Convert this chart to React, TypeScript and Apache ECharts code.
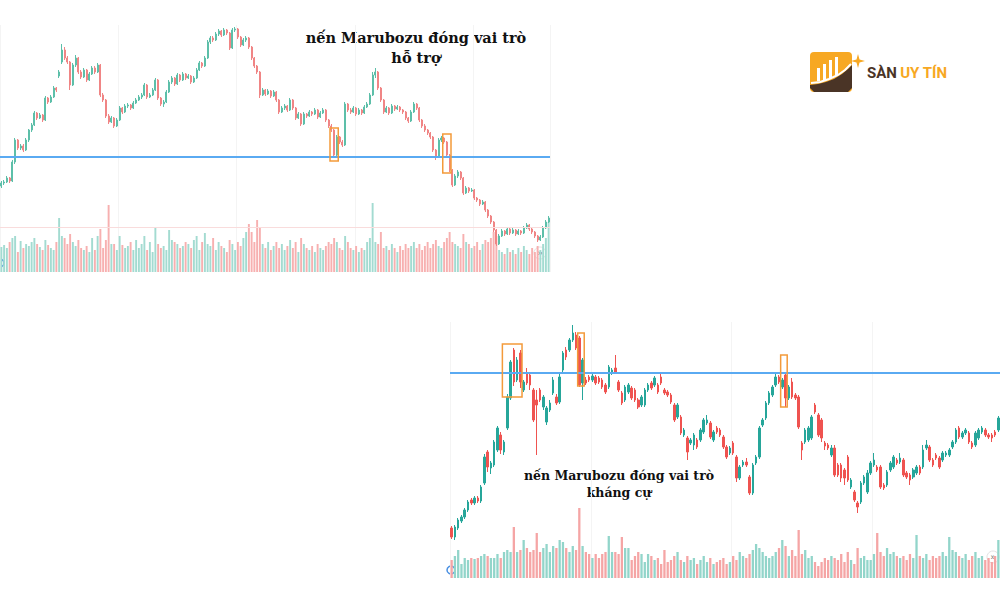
import React, { useEffect, useRef } from "react";
import * as echarts from "echarts";

// Top chart: [open, close, low, high]
const topCandles: number[][] = [
  [114,117,112,119],[117,118,115,120],[118,122,117,124],[122,119,117,123],[119,138,118,140],
  [138,160,136,162],[160,152,150,161],[152,154,150,156],[154,150,148,156],[150,160,149,162],
  [160,170,158,171],[170,175,168,177],[175,187,174,189],[187,182,180,188],[182,185,181,187],
  [185,180,178,186],[180,202,179,204],[202,198,196,203],[198,203,197,205],[203,212,202,214],
  [212,210,208,213],[224,228,222,230],[238,250,236,256],[250,242,240,253],[242,238,236,244],
  [238,215,210,239],[215,235,214,237],[235,242,233,245],[242,228,226,243],[228,223,221,230],
  [223,230,222,232],[230,220,218,231],[220,226,219,228],[226,232,225,234],[232,228,226,234],
  [228,235,227,237],[235,205,203,236],[205,200,198,207],[200,184,182,201],[184,178,176,186],
  [178,182,177,184],[182,174,172,183],[174,180,173,182],[180,192,179,194],[192,188,186,193],
  [188,194,187,196],[194,195,192,197],[195,192,190,196],[192,197,191,199],[197,200,196,202],
  [200,203,199,205],[203,205,201,207],[205,215,204,217],[215,203,201,216],[203,205,202,207],
  [205,210,204,212],[210,220,209,222],[220,202,200,221],[202,196,194,203],[196,198,193,200],
  [198,208,197,210],[208,218,207,220],[218,222,216,224],[222,216,214,223],[216,225,215,227],
  [225,220,218,226],[220,226,219,228],[226,222,220,227],[222,224,221,226],[224,218,216,225],
  [218,222,217,224],[222,230,221,232],[230,237,229,239],[237,234,232,238],[234,242,233,244],
  [242,258,241,260],[258,262,256,264],[262,260,258,264],[260,266,259,268],[266,269,264,271],
  [269,265,263,270],[265,270,264,272],[270,267,265,271],[267,252,250,268],[252,270,251,272],
  [270,271,268,273],[271,263,261,272],[263,255,253,264],[255,260,254,262],[260,262,258,264],
  [262,253,251,263],[253,242,240,254],[242,234,232,243],[234,228,226,235],[228,205,202,229],
  [205,210,204,212],[210,206,204,211],[206,209,205,211],[209,204,202,210],[204,208,203,210],
  [208,200,198,209],[200,188,186,201],[188,192,187,194],[192,194,190,196],[194,190,188,195],
  [190,200,189,202],[200,192,190,201],[192,182,180,193],[182,186,181,188],[186,176,174,187],
  [176,186,175,188],[186,184,182,187],[184,188,183,190],[188,186,184,189],[186,190,185,192],
  [190,183,181,191],[183,187,182,189],[187,190,186,192],[190,180,178,191],[180,174,172,181],
  [174,170,168,176],[170,145,143,171],[145,163,142,165],[163,158,156,164],[158,155,153,160],
  [155,196,154,198],[196,190,188,197],[190,188,186,192],[188,192,187,194],[192,186,184,193],
  [186,190,185,192],[190,187,185,191],[187,193,186,195],[193,196,192,198],[196,205,195,207],
  [205,225,204,228],[225,228,222,232],[228,212,210,229],[212,200,198,213],[200,188,186,201],
  [188,192,187,194],[192,187,185,193],[187,194,186,196],[194,191,189,195],[191,193,190,195],
  [193,190,188,194],[190,188,186,191],[188,182,180,189],[182,179,177,183],[179,188,178,190],
  [188,196,187,198],[196,192,190,197],[192,180,178,193],[180,174,172,181],[174,170,168,176],
  [170,167,165,171],[167,163,161,168],[163,150,148,164],[150,144,140,151],[144,160,143,162],
  [160,162,158,164],[162,158,156,163],[158,145,143,159],[145,130,128,146],[130,115,113,131],
  [115,124,114,126],[124,128,122,130],[128,122,120,129],[122,107,105,123],[107,112,106,114],
  [112,109,107,113],[109,110,108,112],[110,102,100,111],[102,100,98,103],[100,96,94,101],
  [96,98,95,100],[98,90,88,99],[90,84,82,91],[84,78,76,85],[78,70,68,79],
  [70,56,54,71],[56,64,55,66],[64,69,63,71],[69,66,64,70],[66,71,65,73],
  [71,67,65,72],[67,70,66,72],[70,66,64,71],[66,69,65,71],[69,67,65,70],
  [67,72,66,74],[72,75,71,77],[75,71,69,76],[71,68,66,72],[68,64,62,69],
  [64,60,58,65],[60,63,59,65],[63,72,62,74],[72,78,71,80],[78,82,77,84]
];

const topVolume: number[] = [
  25,27,24,30,34,36,20,31,24,28, 26,30,34,28,25,22,32,27,24,22,
  30,54,36,34,28,38,30,26,32,24, 22,26,20,34,22,36,43,24,32,67,
  28,28,22,36,27,24,26,30,22,32, 24,28,36,22,30,20,45,28,24,26,
  22,42,32,30,28,24,26,30,28,24, 32,36,22,30,39,28,26,34,22,30,
  26,24,20,32,28,22,30,26,34,40, 48,40,30,52,44,28,24,30,22,26,
  30,24,28,22,26,32,24,30,20,34, 28,24,22,26,20,28,24,22,26,30,
  28,34,30,24,22,36,30,24,22,26, 20,24,22,30,34,69,30,28,40,24,
  26,22,28,24,20,26,22,28,24,26, 30,24,28,22,26,30,24,28,32,26,
  24,30,34,40,30,28,26,24,38,30, 28,24,26,30,22,28,32,30,34,40,
  36,22,20,18,24,20,22,18,24,20, 26,22,18,24,20,26,22,28,34,50
];

// Bottom chart: [open, close, low, high]
const bottomCandles: number[][] = [
  [72,63,61,74],[63,73,60,75],[72,80,70,82],[79,83,77,85],[83,90,81,92],
  [90,98,88,100],[100,97,95,102],[97,102,95,104],[102,99,97,104],[99,113,97,115],
  [117,143,115,146],[148,133,128,150],[132,137,126,139],[135,158,133,160],[150,172,148,174],
  [165,150,146,168],[148,158,145,160],[172,203,170,206],[202,238,200,240],[250,218,214,252],
  [220,240,218,243],[247,218,212,250],[210,218,208,220],[227,217,215,232],[225,215,210,228],
  [210,180,178,212],[200,195,145,210],[210,200,198,212],[193,203,190,205],[178,192,175,194],
  [190,197,188,200],[207,220,205,223],[203,197,195,206],[198,223,196,226],[230,247,228,249],
  [250,243,240,253],[250,260,248,262],[260,267,258,275],[265,252,250,268],[262,215,213,264],
  [217,240,200,242],[220,217,215,223],[223,220,218,225],[220,224,218,226],[223,217,215,225],
  [222,218,216,224],[220,213,211,222],[215,208,206,217],[213,233,211,235],[227,230,225,232],
  [232,228,226,245],[218,210,208,220],[207,197,195,209],[200,213,198,215],[208,215,206,217],
  [212,202,200,214],[210,200,198,212],[200,193,191,202],[195,203,193,205],[195,210,193,212],
  [210,215,208,217],[217,212,210,219],[215,222,213,224],[215,208,206,217],[223,217,215,226],
  [210,207,205,212],[208,205,203,210],[205,198,196,207],[195,180,178,197],[183,195,181,197],
  [183,167,165,185],[165,170,163,172],[162,148,140,164],[157,160,155,162],[155,165,150,167],
  [160,153,151,162],[160,170,158,172],[168,180,166,182],[177,180,175,185],[177,163,161,179],
  [160,168,158,170],[172,168,166,174],[170,165,163,172],[163,153,151,165],[153,143,141,155],
  [147,152,145,154],[157,147,145,159],[143,122,118,145],[122,133,120,135],[135,138,133,140],
  [138,135,133,142],[123,107,105,125],[107,135,105,137],[137,143,135,145],[143,172,141,174],
  [175,180,173,182],[182,197,180,199],[197,207,195,209],[205,213,203,215],[215,223,213,226],
  [223,218,216,225],[213,220,211,222],[225,202,193,227],[202,213,200,215],[218,203,201,222],
  [205,202,200,207],[203,173,171,205],[157,150,140,159],[158,170,156,172],[160,172,158,174],
  [162,183,160,185],[195,188,186,197],[185,165,163,187],[180,162,158,182],[157,154,150,159],
  [155,152,150,157],[145,152,143,155],[152,125,123,155],[135,125,123,137],[135,122,118,137],
  [130,122,115,132],[143,120,118,145],[113,120,111,122],[108,100,98,110],[97,93,87,99],
  [98,117,96,119],[117,123,115,125],[108,127,106,130],[127,137,125,139],[135,140,133,147],
  [133,130,128,135],[133,113,111,135],[115,112,110,117],[115,128,113,130],[130,137,128,139],
  [133,143,131,145],[140,137,135,142],[138,142,136,147],[140,125,123,142],[127,123,121,129],
  [125,120,115,127],[123,130,121,132],[127,133,125,135],[133,127,125,135],[133,150,131,155],
  [152,155,150,160],[153,140,138,155],[140,135,133,142],[145,142,140,147],[142,133,131,144],
  [140,147,138,149],[145,147,143,149],[145,150,143,152],[153,158,151,160],[158,170,156,172],
  [172,163,161,174],[163,167,161,169],[167,170,165,172],[167,158,156,169],[157,153,151,159],
  [155,167,153,169],[162,170,160,172],[168,172,166,174],[170,165,163,172],[165,163,161,167],
  [165,162,158,167],[168,165,163,170],[170,182,168,184]
];

const bottomVolume: number[] = [
  18,22,28,14,20,18,20,19,20,22, 24,22,20,20,24,20,26,28,26,51,
  26,28,38,30,26,28,45,26,30,34, 26,32,30,38,36,30,26,32,28,70,
  32,26,24,20,24,20,24,26,42,26, 26,24,41,30,30,18,22,26,24,16,
  24,22,18,20,14,28,16,18,22,26, 18,16,22,18,20,14,18,22,16,20,
  14,16,18,20,14,16,22,18,26,22, 20,24,28,34,30,26,22,20,22,26,
  30,38,32,22,28,22,48,24,28,20, 22,16,12,16,20,18,22,20,18,24,
  16,26,18,14,30,20,22,18,18,24, 45,26,22,30,24,26,22,20,22,18,
  24,20,43,22,20,24,18,22,20,22, 26,22,41,28,26,22,20,24,18,22,
  26,20,22,18,20,16,22,38
];

const supportLevel = 143;
const resistanceLevel = 227;
const topBoxes = [
  { from: 120, to: 122, high: 172, low: 139 },
  { from: 161, to: 163, high: 166, low: 127 },
];
const bottomBoxes = [
  { from: 16, to: 21, high: 256, low: 203 },
  { from: 39, to: 40, high: 267, low: 214 },
  { from: 101, to: 102, high: 245, low: 193 },
];

const noteSupport = ["nến Marubozu đóng vai trò", "hỗ trợ"];
const noteResistance = ["nến Marubozu đóng vai trò", "kháng cự"];

const topUp = "#5dbfa9";
const topDown = "#f08585";
const topUpVol = "#a3dbd1";
const topDownVol = "#f7b0b0";
const botUp = "#26a69a";
const botDown = "#ef5350";
const botUpVol = "#92d5ca";
const botDownVol = "#f5a5a5";
const boxColor = "#f39a3a";
const lineColor = "#5aaaf2";

type Box = { from: number; to: number; high: number; low: number };

function volData(vols: number[], candles: number[][], up: string, down: string) {
  return vols.map((v, i) => ({
    value: v,
    itemStyle: { color: candles[i] && candles[i][1] >= candles[i][0] ? up : down },
  }));
}

export default function App() {
  const ref = useRef<HTMLDivElement>(null);
  useEffect(() => {
    if (!ref.current) return;
    const chart = echarts.init(ref.current, undefined, { renderer: "svg" });
    const catsTop = topCandles.map((_, i) => "t" + i);
    const catsBot = bottomCandles.map((_, i) => "b" + i);
    const hiddenCat = (gridIndex: number, data: string[], split: boolean) => ({
      type: "category",
      gridIndex,
      data,
      boundaryGap: true,
      axisLine: { show: false },
      axisTick: { show: false },
      axisLabel: { show: false },
      splitLine: { show: split, interval: 42, lineStyle: { color: "#f4f4f4", width: 1 } },
    });
    const hiddenVal = (gridIndex: number, min: number, max: number) => ({
      type: "value",
      gridIndex,
      min,
      max,
      axisLine: { show: false },
      axisTick: { show: false },
      axisLabel: { show: false },
      splitLine: { show: false },
    });
    const serifFont = '"DejaVu Serif", serif';
    const baseGraphics: any[] = [
      {
        type: "text",
        x: 416,
        y: 37,
        style: { text: noteSupport[0], fill: "#111", font: "bold 14.5px " + serifFont, align: "center", verticalAlign: "middle" },
      },
      {
        type: "text",
        x: 416,
        y: 57,
        style: { text: noteSupport[1], fill: "#111", font: "bold 14.5px " + serifFont, align: "center", verticalAlign: "middle" },
      },
      {
        type: "text",
        x: 619,
        y: 475,
        style: { text: noteResistance[0], fill: "#111", font: "bold 12.5px " + serifFont, align: "center", verticalAlign: "middle" },
      },
      {
        type: "text",
        x: 619,
        y: 492,
        style: { text: noteResistance[1], fill: "#111", font: "bold 12.5px " + serifFont, align: "center", verticalAlign: "middle" },
      },
      { type: "circle", shape: { cx: 540, cy: 253, r: 6 }, style: { fill: "#fff", stroke: "#e3e3e3", lineWidth: 1 } },
      { type: "text", x: 540, y: 253, style: { text: "»", fill: "#666", font: "9px sans-serif", align: "center", verticalAlign: "middle" } },
      { type: "circle", shape: { cx: 993, cy: 557, r: 6 }, style: { fill: "#fff", stroke: "#e3e3e3", lineWidth: 1 } },
      { type: "text", x: 993, y: 557, style: { text: "»", fill: "#666", font: "9px sans-serif", align: "center", verticalAlign: "middle" } },
      { type: "circle", shape: { cx: 0, cy: 263, r: 4 }, style: { fill: "#fff", stroke: "#4a90e2", lineWidth: 1.5 } },
      { type: "circle", shape: { cx: 451, cy: 570, r: 4 }, style: { fill: "#fff", stroke: "#4a90e2", lineWidth: 1.5 } },
      { type: "rect", shape: { x: 810, y: 52, width: 42, height: 40, r: 4 }, style: { fill: "#f7a823" } },
      {
        type: "polygon",
        shape: {
          points: [[810, 85], [818, 84], [826, 82], [834, 79], [842, 74], [848, 69], [852, 65], [852, 88], [848, 92], [814, 92], [810, 88]],
        },
        style: { fill: "#4a3426" },
      },
      {
        type: "polyline",
        shape: { points: [[811, 83], [820, 82], [829, 79], [838, 75], [845, 70], [851, 64]] },
        style: { stroke: "#ffffff", lineWidth: 2, fill: "none" },
      },
      { type: "rect", shape: { x: 817, y: 68, width: 3, height: 13 }, style: { fill: "#ffffff" } },
      { type: "rect", shape: { x: 823, y: 64, width: 3, height: 16 }, style: { fill: "#ffffff" } },
      { type: "rect", shape: { x: 829, y: 60, width: 3, height: 18 }, style: { fill: "#ffffff" } },
      { type: "rect", shape: { x: 835, y: 57, width: 3, height: 19 }, style: { fill: "#ffffff" } },
      {
        type: "polygon",
        shape: {
          points: [[858, 54], [859.5, 59.5], [865, 61], [859.5, 62.5], [858, 68], [856.5, 62.5], [851, 61], [856.5, 59.5]],
        },
        style: { fill: "#f7a823" },
      },
      {
        type: "text",
        x: 867,
        y: 73,
        style: {
          text: "{a|SÀN} {b|UY TÍN}",
          verticalAlign: "middle",
          rich: {
            a: { fill: "#4a3426", font: "bold 15px Roboto, sans-serif" },
            b: { fill: "#f7a823", font: "bold 15px Roboto, sans-serif" },
          },
        },
      },
    ];
    const option: any = {
      animation: false,
      backgroundColor: "#ffffff",
      grid: [
        { left: 0, top: 25, width: 550, height: 247 },
        { left: 0, top: 200, width: 550, height: 72 },
        { left: 450, top: 322, width: 550, height: 256 },
        { left: 450, top: 505, width: 550, height: 73 },
      ],
      xAxis: [
        hiddenCat(0, catsTop, true),
        hiddenCat(1, catsTop, false),
        hiddenCat(2, catsBot, true),
        hiddenCat(3, catsBot, false),
      ],
      yAxis: [
        hiddenVal(0, 28, 275),
        hiddenVal(1, 0, 72),
        hiddenVal(2, 22, 278),
        hiddenVal(3, 0, 73),
      ],
      series: [
        {
          type: "bar",
          xAxisIndex: 1,
          yAxisIndex: 1,
          barWidth: "70%",
          z: 1,
          data: volData(topVolume, topCandles, topUpVol, topDownVol),
          markLine: {
            silent: true,
            symbol: "none",
            label: { show: false },
            lineStyle: { color: "#f9dcdc", width: 1, type: "solid" },
            data: [{ yAxis: 45 }],
          },
        },
        {
          type: "bar",
          xAxisIndex: 3,
          yAxisIndex: 3,
          barWidth: "70%",
          z: 1,
          data: volData(bottomVolume, bottomCandles, botUpVol, botDownVol),
        },
        {
          type: "candlestick",
          xAxisIndex: 0,
          yAxisIndex: 0,
          barWidth: "62%",
          z: 3,
          data: topCandles,
          itemStyle: { color: topUp, color0: topDown, borderColor: topUp, borderColor0: topDown, borderWidth: 1 },
          markLine: {
            silent: true,
            symbol: "none",
            label: { show: false },
            lineStyle: { color: lineColor, width: 2, type: "solid" },
            data: [{ yAxis: supportLevel }],
          },
        },
        {
          type: "candlestick",
          xAxisIndex: 2,
          yAxisIndex: 2,
          barWidth: "62%",
          z: 3,
          data: bottomCandles,
          itemStyle: { color: botUp, color0: botDown, borderColor: botUp, borderColor0: botDown, borderWidth: 1 },
          markLine: {
            silent: true,
            symbol: "none",
            label: { show: false },
            lineStyle: { color: lineColor, width: 2, type: "solid" },
            data: [{ yAxis: resistanceLevel }],
          },
        },
      ],
      graphic: baseGraphics,
    };
    chart.setOption(option);

    // Orange boxes around the Marubozu candles, placed through the chart's own scales
    const boxGraphics: any[] = [];
    const addBoxes = (boxes: Box[], cats: string[], xi: number, yi: number, band: number) => {
      boxes.forEach((b) => {
        const x1 = (chart.convertToPixel({ xAxisIndex: xi } as any, cats[b.from]) as number) - band / 2;
        const x2 = (chart.convertToPixel({ xAxisIndex: xi } as any, cats[b.to]) as number) + band / 2;
        const y1 = chart.convertToPixel({ yAxisIndex: yi } as any, b.high) as number;
        const y2 = chart.convertToPixel({ yAxisIndex: yi } as any, b.low) as number;
        boxGraphics.push({
          type: "rect",
          z: 100,
          shape: { x: x1, y: y1, width: x2 - x1, height: y2 - y1 },
          style: { fill: "none", stroke: boxColor, lineWidth: 1.5 },
        });
      });
    };
    addBoxes(topBoxes, catsTop, 0, 0, 550 / topCandles.length);
    addBoxes(bottomBoxes, catsBot, 2, 2, 550 / bottomCandles.length);
    chart.setOption({ graphic: [...baseGraphics, ...boxGraphics] });

    return () => chart.dispose();
  }, []);
  return (
    <div
      ref={ref}
      style={{ position: "fixed", left: 0, top: 0, width: 1000, height: 600, background: "#fff" }}
    />
  );
}
